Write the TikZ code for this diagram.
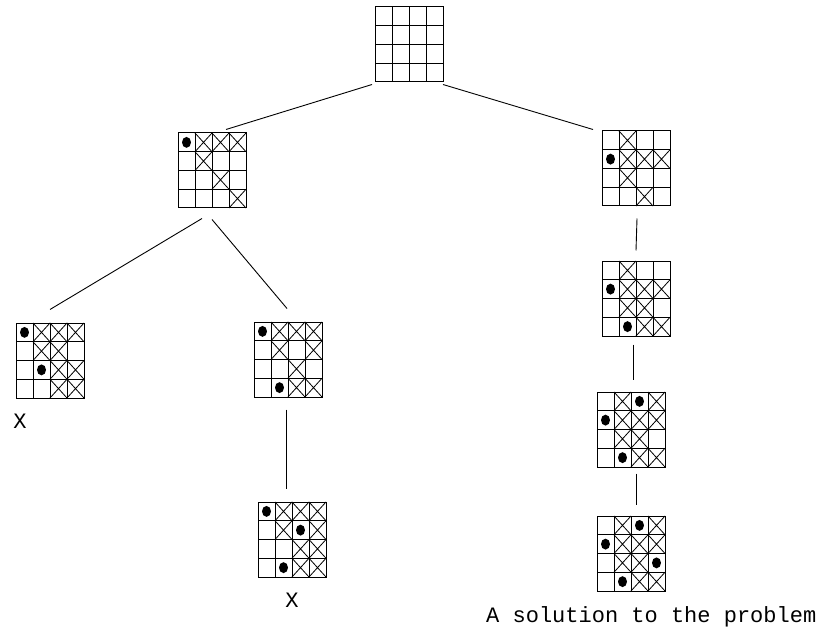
\documentclass[tikz,border=0pt]{standalone}
\usepackage{fontspec}
\newfontfamily\cadfont{Liberation Mono}
\usetikzlibrary{calc}
\tikzset{
  board/.style={draw, line width=1pt, minimum width=68pt, minimum height=75pt, inner sep=0pt},
  gridline/.style={line width=1pt},
  crossline/.style={line width=0.8pt},
  link/.style={line width=0.9pt},
  label/.style={inner sep=0pt, font=\cadfont\fontsize{22}{24}\selectfont}
}
\newcommand\qboard[5]{%
  \node[board] (#1) at (#2+34, #3+37.5) {};
  \foreach \i in {1,2,3} {
    \draw[gridline] (#2+\i*17, #3) -- ++(0,75);
    \draw[gridline] (#2, #3+\i*18.75) -- ++(68,0);
  }
  \foreach \r/\c in {#5} {
    \draw[crossline] (#2+\c*17-17, #3+\r*18.75-18.75) -- ++(17,18.75)
                     (#2+\c*17, #3+\r*18.75-18.75) -- ++(-17,18.75);
  }
  \foreach \r/\c in {#4} {
    \fill (#2+\c*17-8.5, #3+\r*18.75-9.375) ellipse [x radius=4.5pt, y radius=5.5pt];
  }
}
\begin{document}
\begin{tikzpicture}[x=1pt, y=-1pt]
\useasboundingbox (0,0) rectangle (830,631);
\fill[white] (0,0) rectangle (830,631);

\qboard{root}{375}{7}{}{}
\qboard{b2}{178}{133}{1/1}{1/2,1/3,1/4,2/2,3/3,4/4}
\qboard{b3}{602}{131}{2/1}{1/2,2/2,2/3,2/4,3/2,4/3}
\qboard{b4}{16}{323}{1/1,3/2}{1/2,1/3,1/4,2/2,2/3,3/3,3/4,4/3,4/4}
\qboard{b5}{254}{322}{1/1,4/2}{1/2,1/3,1/4,2/2,2/4,3/3,4/3,4/4}
\qboard{b6}{258}{502}{1/1,2/3,4/2}{1/2,1/3,1/4,2/2,2/4,3/3,3/4,4/3,4/4}
\qboard{b7}{602}{261}{2/1,4/2}{1/2,2/2,2/3,2/4,3/2,3/3,4/3,4/4}
\qboard{b8}{597}{392}{1/3,2/1,4/2}{1/2,1/4,2/2,2/3,2/4,3/2,3/3,4/3,4/4}
\qboard{b9}{597}{516}{1/3,2/1,3/4,4/2}{1/2,1/4,2/2,2/3,2/4,3/2,3/3,4/3,4/4}

\draw[link] ($(root.south)+(-37,2)$) -- ($(b2.north)+(14,-3)$);
\draw[link] ($(root.south)+(34,2)$) -- ($(b3.north)+(-43,-1)$);
\draw[link] ($(b2.south)+(-10,10)$) -- ($(b4.north)+(0,-13)$);
\draw[link] ($(b2.south)+(0,11)$) -- ($(b5.north)+(-1,-13)$);
\draw[link] ($(b5.south)+(-2,12)$) -- ($(b6.north)+(-6,-13)$);
\draw[link] ($(b3.south)+(1,12)$) -- ($(b7.north)+(0,-10)$);
\draw[link] ($(b7.south)+(-3,8)$) -- ($(b8.north)+(2,-12)$);
\draw[link] ($(b8.south)+(5,6)$) -- ($(b9.north)+(5,-11)$);

\node[label, anchor=base] (x1) at (20,428) {X};
\node[label, anchor=base] (x2) at (292,607) {X};
\node[label, anchor=base west] (sol) at (486,622) {A solution to the problem};
\end{tikzpicture}
\end{document}
